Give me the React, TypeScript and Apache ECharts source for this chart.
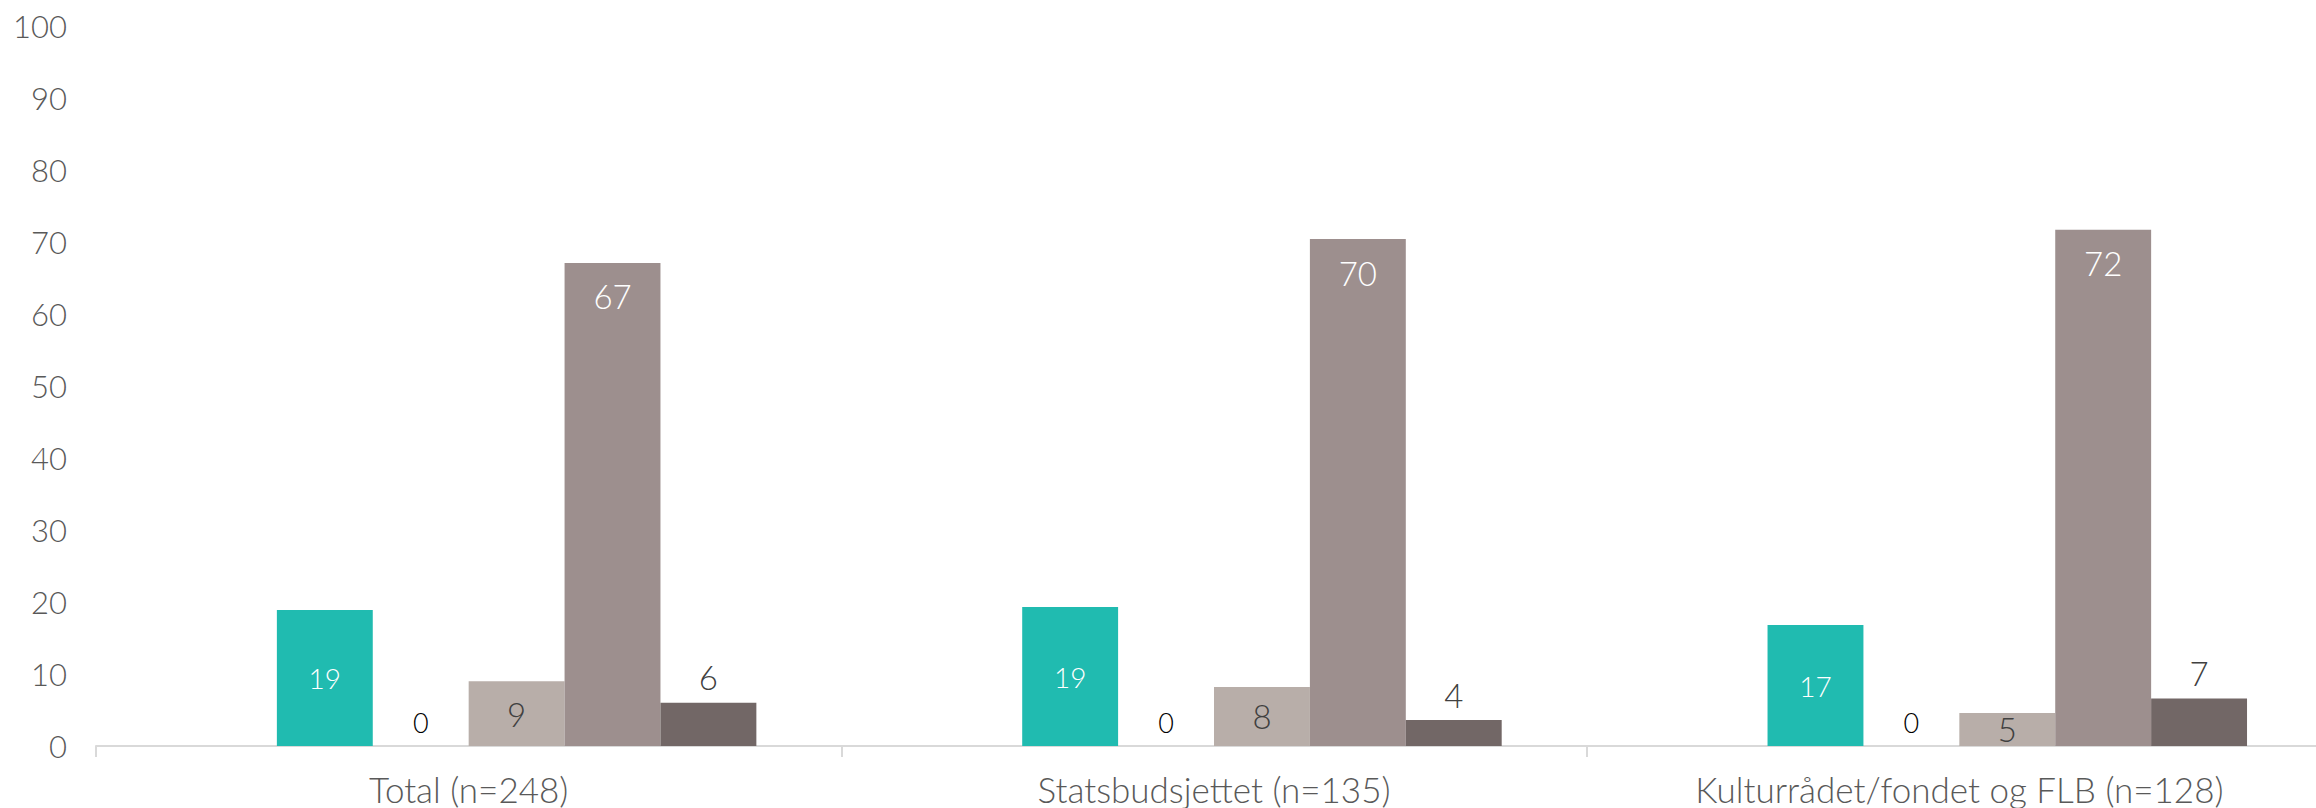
import React, { useEffect, useRef } from "react";
import * as echarts from "echarts";

const categories = ["Total (n=248)", "Statsbudsjettet (n=135)", "Kulturrådet/fondet og FLB (n=128)"];
const yTicks = [0, 10, 20, 30, 40, 50, 60, 70, 80, 90, 100];
const blankValues: (number | null)[] = [null, null, null];
const tealValues = [18.9, 19.3, 16.8];
const zeroValues = [0, 0, 0];
const lightValues = [9.0, 8.2, 4.6];
const midValues = [67.1, 70.4, 71.7];
const darkValues = [6.0, 3.6, 6.6];

const FONT = "Lato";

export default function App() {
  const ref = useRef<HTMLDivElement>(null);
  useEffect(() => {
    document.body.style.margin = "0";
    const chart = echarts.init(ref.current!, null, { renderer: "svg" });
    const fmt = (p: any) => String(Math.round(p.value));
    const mkLabel = (o: any) => ({ show: true, fontFamily: FONT, fontWeight: 300, formatter: fmt, ...o });
    chart.setOption({
      animation: false,
      backgroundColor: "#ffffff",
      grid: { left: 96, width: 2236, top: 26, height: 720, containLabel: false, outerBoundsMode: "none" },
      xAxis: {
        type: "category",
        data: categories,
        axisLine: { show: true, lineStyle: { color: "#D9D9D9", width: 2 } },
        axisTick: { show: true, length: 11, lineStyle: { color: "#D9D9D9", width: 2 } },
        axisLabel: { color: "#595959", fontFamily: FONT, fontWeight: 300, fontSize: 35, margin: 25 },
      },
      yAxis: {
        type: "value",
        min: yTicks[0],
        max: yTicks[yTicks.length - 1],
        interval: 10,
        splitLine: { show: false },
        axisLine: { show: false },
        axisTick: { show: false },
        axisLabel: { color: "#595959", fontFamily: FONT, fontWeight: 300, fontSize: 31, margin: 29 },
      },
      series: [
        { name: "blank", type: "bar", data: blankValues, barGap: "0%", barCategoryGap: "22.8%", itemStyle: { color: "#FFFFFF" } },
        {
          name: "A", type: "bar", data: tealValues, barGap: "0%", barCategoryGap: "22.8%",
          itemStyle: { color: "#20BBB0" },
          label: mkLabel({ position: "inside", color: "#FFFFFF", fontSize: 28 }),
        },
        {
          name: "B", type: "bar", data: zeroValues, barGap: "0%", barCategoryGap: "22.8%",
          itemStyle: { color: "#5B9BD5" },
          label: mkLabel({ position: "top", distance: 10, color: "#000000", fontSize: 27 }),
        },
        {
          name: "C", type: "bar", data: lightValues, barGap: "0%", barCategoryGap: "22.8%",
          itemStyle: { color: "#B8AEA9" },
          label: mkLabel({ position: "inside", color: "#404040", fontSize: 33 }),
        },
        {
          name: "D", type: "bar", data: midValues, barGap: "0%", barCategoryGap: "22.8%",
          itemStyle: { color: "#9D8F8E" },
          label: mkLabel({ position: "insideTop", distance: 17, color: "#FFFFFF", fontSize: 33 }),
        },
        {
          name: "E", type: "bar", data: darkValues, barGap: "0%", barCategoryGap: "22.8%",
          itemStyle: { color: "#726766" },
          label: mkLabel({ position: "top", distance: 9, color: "#404040", fontSize: 33 }),
        },
      ],
    });
    return () => chart.dispose();
  }, []);
  return <div ref={ref} style={{ position: "fixed", left: 0, top: 0, width: 2316, height: 808 }} />;
}
